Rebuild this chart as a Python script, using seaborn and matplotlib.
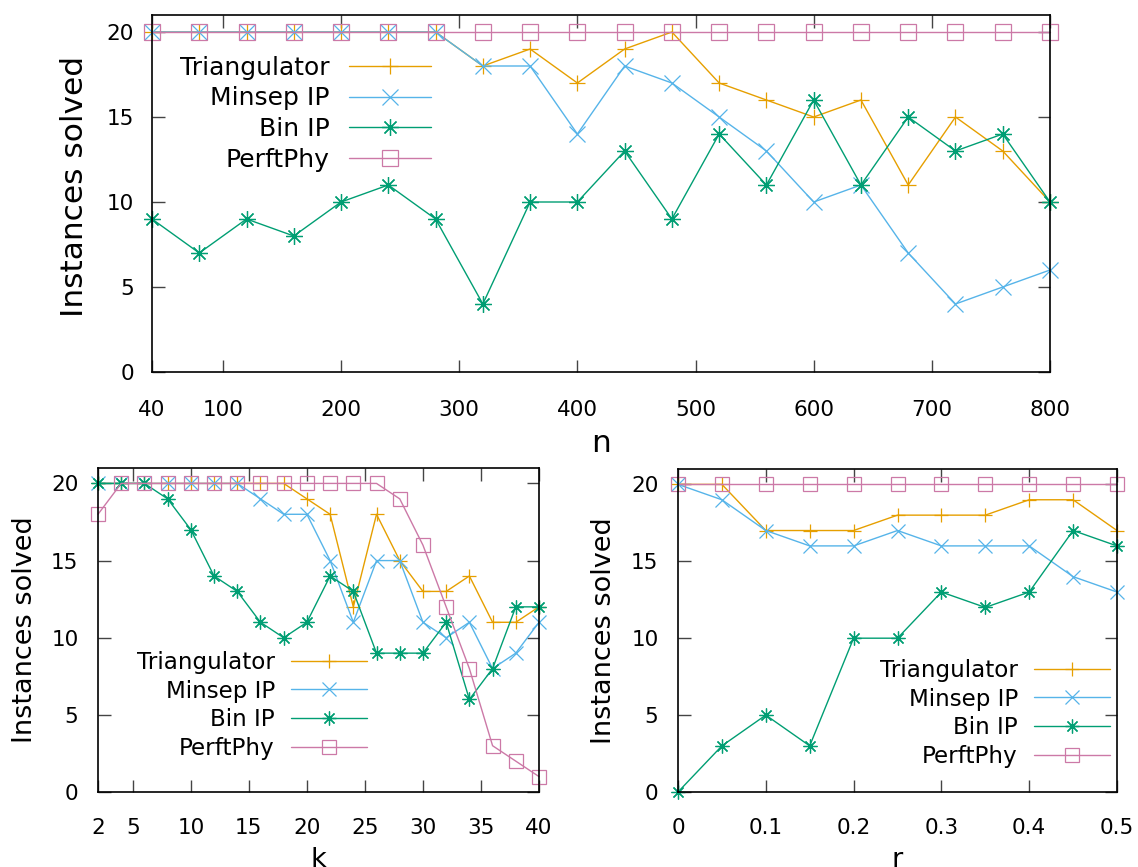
import numpy as np
import pandas as pd
import matplotlib
matplotlib.use("Agg")
import matplotlib.pyplot as plt
import seaborn as sns

# ---------------- data ----------------
n_vals = [40, 80, 120, 160, 200, 240, 280, 320, 360, 400, 440, 480, 520, 560, 600, 640, 680, 720, 760, 800]
n_tri = [20, 20, 20, 20, 20, 20, 20, 18, 19, 17, 19, 20, 17, 16, 15, 16, 11, 15, 13, 10]
n_minsep = [20, 20, 20, 20, 20, 20, 20, 18, 18, 14, 18, 17, 15, 13, 10, 11, 7, 4, 5, 6]
n_bin = [9, 7, 9, 8, 10, 11, 9, 4, 10, 10, 13, 9, 14, 11, 16, 11, 15, 13, 14, 10]
n_perf = [20] * 20
n_ticks = [40, 100, 200, 300, 400, 500, 600, 700, 800]

k_vals = [2, 4, 6, 8, 10, 12, 14, 16, 18, 20, 22, 24, 26, 28, 30, 32, 34, 36, 38, 40]
k_tri = [20, 20, 20, 20, 20, 20, 20, 20, 20, 19, 18, 12, 18, 15, 13, 13, 14, 11, 11, 12]
k_minsep = [20, 20, 20, 20, 20, 20, 20, 19, 18, 18, 15, 11, 15, 15, 11, 10, 11, 8, 9, 11]
k_bin = [20, 20, 20, 19, 17, 14, 13, 11, 10, 11, 14, 13, 9, 9, 9, 11, 6, 8, 12, 12]
k_perf = [18, 20, 20, 20, 20, 20, 20, 20, 20, 20, 20, 20, 20, 19, 16, 12, 8, 3, 2, 1]
k_ticks = [2, 5, 10, 15, 20, 25, 30, 35, 40]

r_vals = [0, 0.05, 0.1, 0.15, 0.2, 0.25, 0.3, 0.35, 0.4, 0.45, 0.5]
r_tri = [20, 20, 17, 17, 17, 18, 18, 18, 19, 19, 17]
r_minsep = [20, 19, 17, 16, 16, 17, 16, 16, 16, 14, 13]
r_bin = [0, 3, 5, 3, 10, 10, 13, 12, 13, 17, 16]
r_perf = [20] * 11
r_ticks = [0, 0.1, 0.2, 0.3, 0.4, 0.5]
r_ticklabels = ["0", "0.1", "0.2", "0.3", "0.4", "0.5"]

y_ticks = [0, 5, 10, 15, 20]
labels = ["Triangulator", "Minsep IP", "Bin IP", "PerftPhy"]
colors = ["#E69F00", "#56B4E9", "#009E73", "#CC79A7"]
markers = ["+", "x", (8, 2, 0), "s"]

# ---------------- style ----------------
sns.set_style("ticks")
plt.rcParams["font.family"] = ["DejaVu Sans"]
plt.rcParams["text.color"] = "black"
plt.rcParams["axes.labelcolor"] = "black"
plt.rcParams["xtick.labelcolor"] = "black"
plt.rcParams["ytick.labelcolor"] = "black"

W, H = 1138, 867
fig = plt.figure(figsize=(W / 100, H / 100), dpi=100)


def px_axes(left, top, right, bottom):
    return fig.add_axes([left / W, 1 - bottom / H, (right - left) / W, (bottom - top) / H])


def draw(ax, x, series, ms, tick_fs, leg_fs, lab_fs, xlabel, xticks, xticklabels,
         xlim, leg_anchor, handlelen, hpad, lspace, ylab_x, ylab_y, xlab_y, xpad, ypad):
    for lab, col, mk, ys in zip(labels, colors, markers, series):
        df = pd.DataFrame({"x": x, "y": ys})
        sns.lineplot(data=df, x="x", y="y", ax=ax, color=col, marker=mk,
                     markersize=ms, markeredgewidth=0.9, markerfacecolor="none",
                     markeredgecolor=col, linewidth=1.0, label=lab,
                     clip_on=False, legend=False)
    ax.set_xlim(*xlim)
    ax.set_ylim(0, 21)
    ax.set_xticks(xticks)
    ax.set_xticklabels(xticklabels)
    ax.set_yticks(y_ticks)
    ax.tick_params(axis="both", direction="in", length=9, width=1.0, color="#444444",
                   labelsize=tick_fs, labelcolor="black", top=True, right=True)
    ax.tick_params(axis="x", pad=xpad)
    ax.tick_params(axis="y", pad=ypad)
    for sp in ax.spines.values():
        sp.set_visible(True)
        sp.set_linewidth(1.2)
        sp.set_color("black")
    ax.set_xlabel(xlabel, fontsize=lab_fs)
    ax.set_ylabel("Instances solved", fontsize=lab_fs)
    ax.yaxis.set_label_coords(ylab_x, ylab_y)
    ax.xaxis.set_label_coords(0.5, xlab_y)
    handles = ax.get_lines()[:4]
    ax.legend(handles, labels, loc="upper right", bbox_to_anchor=leg_anchor,
              bbox_transform=fig.transFigure, frameon=False, markerfirst=False,
              fontsize=leg_fs, handlelength=handlelen, handletextpad=hpad,
              labelspacing=lspace, borderpad=0, borderaxespad=0)
    return ax


# top panel
ax1 = px_axes(152, 15, 1050, 372)
draw(ax1, n_vals, [n_tri, n_minsep, n_bin, n_perf], 12, 15.5, 18, 22.5, "n",
     n_ticks, [str(t) for t in n_ticks], (40, 800),
     (431 / W, 1 - 56 / H), 3.3, 0.76, 0.26, -0.070, 0.52, -0.16, 20, 13)

# bottom left
ax2 = px_axes(98, 468, 539, 792)
draw(ax2, k_vals, [k_tri, k_minsep, k_bin, k_perf], 10, 15.5, 16.6, 19.5, "k",
     k_ticks, [str(t) for t in k_ticks], (2, 40),
     (367 / W, 1 - 651 / H), 3.3, 0.7, 0.24, -0.135, 0.5, -0.17, 19, 14)

# bottom right
ax3 = px_axes(678, 469, 1117, 792)
draw(ax3, r_vals, [r_tri, r_minsep, r_bin, r_perf], 10, 15.5, 16.6, 19.5, "r",
     r_ticks, r_ticklabels, (0, 0.5),
     (1110 / W, 1 - 659 / H), 3.3, 0.7, 0.24, -0.139, 0.5, -0.17, 19, 14)

fig.savefig("out.png", dpi=100)
